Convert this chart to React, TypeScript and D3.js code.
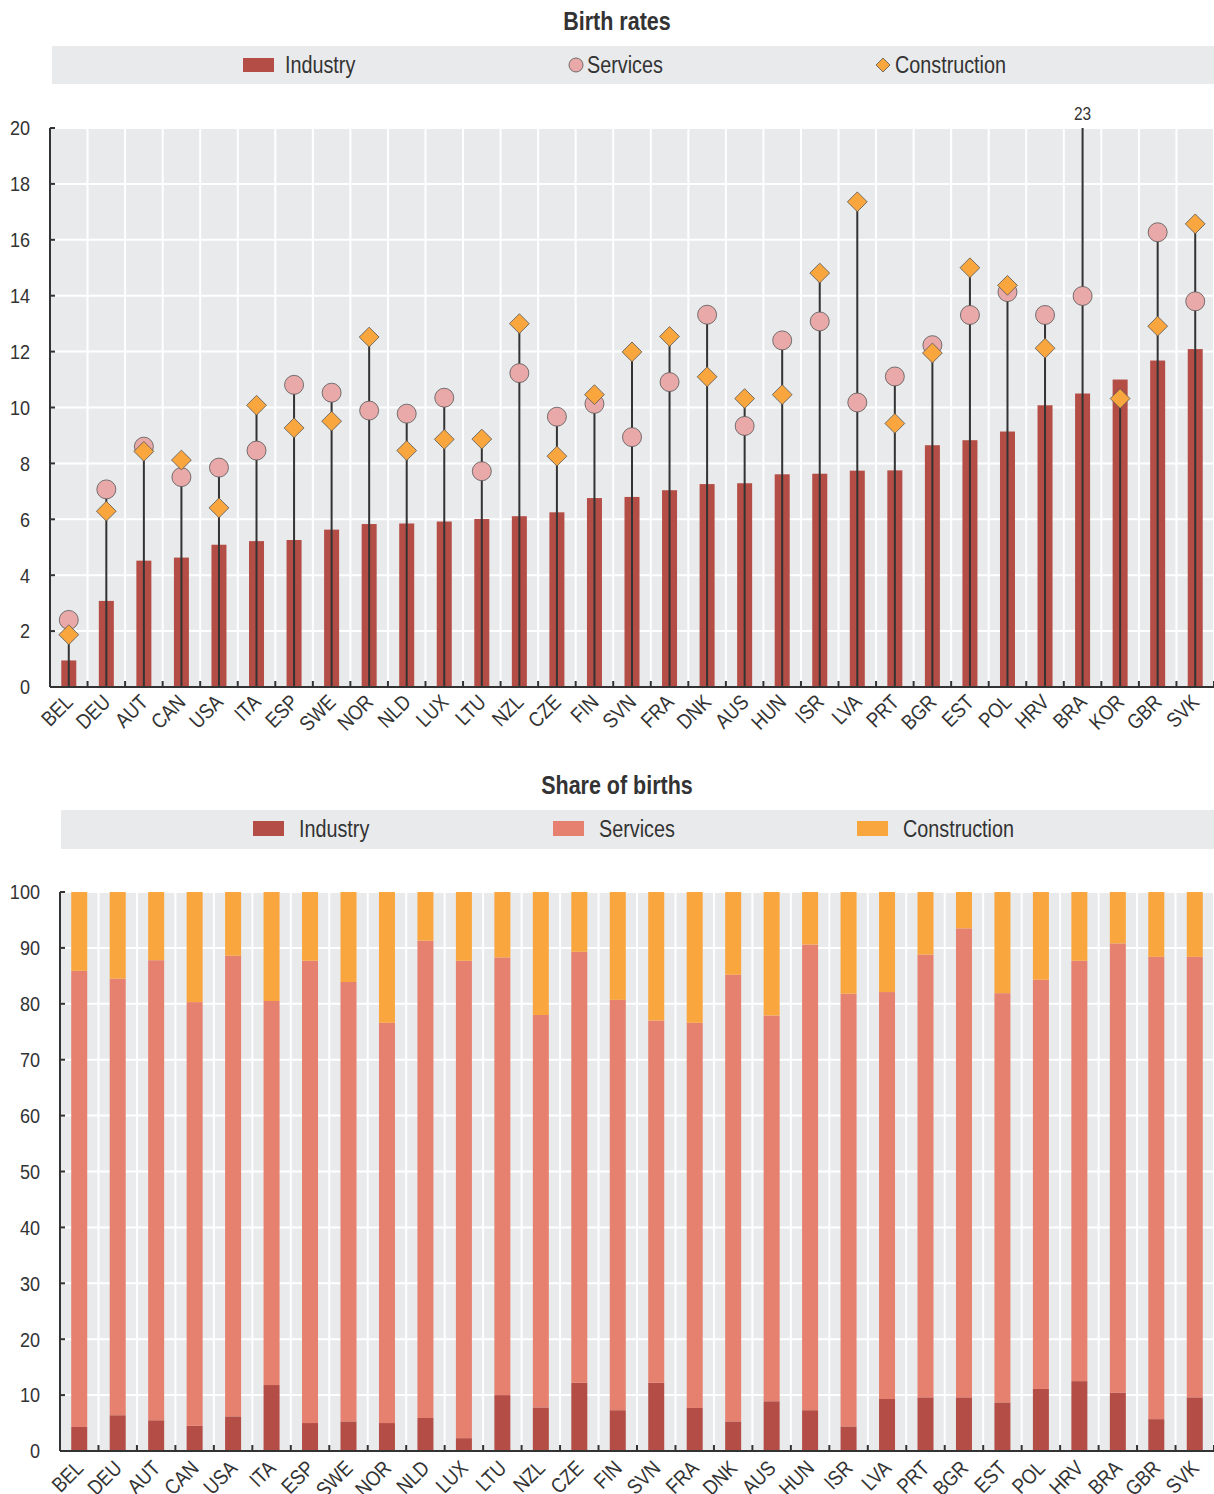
import React from "react";
import * as d3 from "d3";

// ---------- Data: Birth rates ----------
const rateCountries = ["BEL","DEU","AUT","CAN","USA","ITA","ESP","SWE","NOR","NLD","LUX","LTU","NZL","CZE","FIN","SVN","FRA","DNK","AUS","HUN","ISR","LVA","PRT","BGR","EST","POL","HRV","BRA","KOR","GBR","SVK"];
const industryRate = [0.95,3.08,4.52,4.63,5.09,5.22,5.26,5.63,5.83,5.85,5.92,6.01,6.11,6.25,6.76,6.80,7.04,7.26,7.29,7.61,7.63,7.74,7.75,8.65,8.83,9.14,10.08,10.5,11.0,11.68,12.09];
const servicesRate: (number | null)[] = [2.4,7.07,8.6,7.51,7.85,8.46,10.81,10.53,9.89,9.78,10.35,7.72,11.23,9.67,10.13,8.94,10.91,13.32,9.34,12.4,13.08,10.18,11.11,12.23,13.31,14.13,13.31,13.99,null,16.27,13.8];
const constructionRate = [1.87,6.29,8.43,8.12,6.41,10.08,9.27,9.51,12.52,8.46,8.86,8.87,13.0,8.26,10.46,11.99,12.54,11.1,10.32,10.46,14.81,17.36,9.43,11.95,15.0,14.37,12.12,23,10.32,12.91,16.57];
const rateTicks = [0,2,4,6,8,10,12,14,16,18,20];

// ---------- Data: Share of births ----------
const shareCountries = ["BEL","DEU","AUT","CAN","USA","ITA","ESP","SWE","NOR","NLD","LUX","LTU","NZL","CZE","FIN","SVN","FRA","DNK","AUS","HUN","ISR","LVA","PRT","BGR","EST","POL","HRV","BRA","GBR","SVK"];
const industryShare = [4.3,6.4,5.5,4.5,6.2,11.8,5.0,5.3,5.0,5.9,2.3,10.0,7.8,12.2,7.3,12.2,7.7,5.3,8.9,7.3,4.4,9.3,9.6,9.6,8.7,11.1,12.5,10.4,5.7,9.6];
const servicesShare = [81.6,78.1,82.3,75.8,82.4,68.7,82.7,78.6,71.6,85.4,85.4,78.3,70.2,77.1,73.4,64.8,68.9,79.9,69.0,83.3,77.4,72.8,79.2,83.9,73.2,73.2,75.2,80.4,82.7,78.8];
const constructionShare = [14.1,15.5,12.2,19.7,11.4,19.5,12.3,16.1,23.4,8.7,12.3,11.7,22.0,10.7,19.3,23.0,23.4,14.8,22.1,9.4,18.2,17.9,11.2,6.5,18.1,15.7,12.3,9.2,11.6,11.6];
const shareTicks = [0,10,20,30,40,50,60,70,80,90,100];

const seriesNames = ["Industry", "Services", "Construction"];

const FONT = "'Liberation Sans', Arial, sans-serif";
const NARROW = 0.86;
const C_IND = "#b34d45";
const C_SERV_DOT = "#e8a9a8";
const C_SERV = "#e6806f";
const C_CONS = "#f9a63f";
const C_BG = "#e9eaec";
const C_AXIS = "#333333";
const C_TEXT = "#333333";

type TProps = {
  x: number; y: number; size: number; anchor?: "start" | "middle" | "end";
  bold?: boolean; rotate?: number; dy?: string; children: React.ReactNode;
};
function T({ x, y, size, anchor = "start", bold = false, rotate = 0, dy, children }: TProps) {
  return (
    <text
      transform={`translate(${x},${y}) rotate(${rotate}) scale(${NARROW},1)`}
      textAnchor={anchor}
      dy={dy}
      fontFamily={FONT}
      fontWeight={bold ? "bold" : "normal"}
      fontSize={size}
      fill={C_TEXT}
    >
      {children}
    </text>
  );
}

function RatesChart() {
  const left = 50, right = 1214, top = 128, bottom = 687;
  const x = d3.scaleBand<string>().domain(rateCountries).range([left, right]).paddingInner(0).paddingOuter(0);
  const y = d3.scaleLinear().domain([0, 20]).range([bottom, top]);
  const bw = x.bandwidth();
  const barW = 15;
  const boundaries = rateCountries.map((c) => x(c)!).concat([right]);
  const diamond = d3.symbol().type(d3.symbolDiamond2).size(250)();
  return (
    <g>
      <T x={617} y={30} size={25} anchor="middle" bold>Birth rates</T>
      <rect x={52} y={46} width={1162} height={38} fill={C_BG} />
      <rect x={243} y={58} width={31} height={14} fill={C_IND} />
      <T x={285} y={73} size={23}>{seriesNames[0]}</T>
      <circle cx={576} cy={65} r={7} fill={C_SERV_DOT} stroke="#555" strokeWidth={0.8} />
      <T x={587} y={73} size={23}>{seriesNames[1]}</T>
      <path d={d3.symbol().type(d3.symbolDiamond2).size(125)()!} transform={`translate(883,65)`} fill={C_CONS} stroke="#555" strokeWidth={0.8} />
      <T x={895} y={73} size={23}>{seriesNames[2]}</T>

      <rect x={left} y={top} width={right - left} height={bottom - top} fill={C_BG} />
      {rateTicks.map((t) => (
        <line key={"h" + t} x1={left} x2={right} y1={y(t)} y2={y(t)} stroke="#fff" strokeWidth={2} />
      ))}
      {boundaries.map((b, i) => (
        <line key={"v" + i} x1={b} x2={b} y1={top} y2={bottom} stroke="#fff" strokeWidth={2} />
      ))}
      {rateCountries.map((c, i) => {
        const cx = x(c)! + bw / 2;
        return <rect key={"b" + c} x={cx - barW / 2} y={y(industryRate[i])} width={barW} height={bottom - y(industryRate[i])} fill={C_IND} />;
      })}
      {rateCountries.map((c, i) => {
        const cx = x(c)! + bw / 2;
        const s = servicesRate[i];
        const mx = Math.max(s ?? 0, constructionRate[i]);
        return <line key={"l" + c} x1={cx} x2={cx} y1={bottom} y2={y(Math.min(mx, 20))} stroke="#333" strokeWidth={2} />;
      })}
      {rateCountries.map((c, i) => {
        const s = servicesRate[i];
        if (s === null || s > 20) return null;
        const cx = x(c)! + bw / 2;
        return <circle key={"c" + c} cx={cx} cy={y(s)} r={9.5} fill={C_SERV_DOT} stroke="#555" strokeWidth={0.8} />;
      })}
      {rateCountries.map((c, i) => {
        const v = constructionRate[i];
        const cx = x(c)! + bw / 2;
        if (v > 20) {
          return <T key={"o" + c} x={cx} y={top - 8} size={18} anchor="middle">{v}</T>;
        }
        return <path key={"d" + c} d={diamond!} transform={`translate(${cx},${y(v)})`} fill={C_CONS} stroke="#555" strokeWidth={0.8} />;
      })}
      {/* axes */}
      <line x1={left} x2={left} y1={top} y2={bottom} stroke={C_AXIS} strokeWidth={2} />
      <line x1={left} x2={right} y1={bottom} y2={bottom} stroke={C_AXIS} strokeWidth={2} />
      {rateTicks.map((t) => (
        <g key={"yt" + t}>
          <line x1={left} x2={left + 5} y1={y(t)} y2={y(t)} stroke={C_AXIS} strokeWidth={2} />
          <T x={left - 20} y={y(t)} dy="0.35em" size={21} anchor="end">{t}</T>
        </g>
      ))}
      {boundaries.map((b, i) => (
        <line key={"xt" + i} x1={b} x2={b} y1={bottom} y2={bottom - 6} stroke={C_AXIS} strokeWidth={2} />
      ))}
      {rateCountries.map((c) => {
        const cx = x(c)! + bw / 2;
        return <T key={"xl" + c} x={cx - 5} y={bottom + 6} rotate={-45} dy="0.7em" size={21} anchor="end">{c}</T>;
      })}
    </g>
  );
}

function ShareChart() {
  const left = 60, right = 1214, top = 892, bottom = 1451;
  const x = d3.scaleBand<string>().domain(shareCountries).range([left, right]).paddingInner(0).paddingOuter(0);
  const y = d3.scaleLinear().domain([0, 100]).range([bottom, top]);
  const bw = x.bandwidth();
  const barW = 16;
  const boundaries = shareCountries.map((c) => x(c)!).concat([right]);
  const rows = shareCountries.map((c, i) => ({ country: c, Industry: industryShare[i], Services: servicesShare[i], Construction: constructionShare[i] }));
  const stacked = d3.stack<any>().keys(seriesNames)(rows);
  const colors = [C_IND, C_SERV, C_CONS];
  const legendX = [253, 553, 857];
  return (
    <g>
      <T x={617} y={794} size={25} anchor="middle" bold>Share of births</T>
      <rect x={61} y={810} width={1153} height={39} fill={C_BG} />
      {seriesNames.map((s, i) => (
        <g key={"lg" + s}>
          <rect x={legendX[i]} y={821} width={31} height={15} fill={colors[i]} />
          <T x={legendX[i] + 46} y={837} size={23}>{s}</T>
        </g>
      ))}
      <rect x={left} y={top} width={right - left} height={bottom - top} fill={C_BG} />
      {shareTicks.map((t) => (
        <line key={"h" + t} x1={left} x2={right} y1={y(t)} y2={y(t)} stroke="#fff" strokeWidth={2} />
      ))}
      {boundaries.map((b, i) => (
        <line key={"v" + i} x1={b} x2={b} y1={top} y2={bottom} stroke="#fff" strokeWidth={2} />
      ))}
      {stacked.map((layer, li) => (
        <g key={"s" + li} fill={colors[li]}>
          {layer.map((d, i) => {
            const cx = x(shareCountries[i])! + bw / 2;
            return <rect key={i} x={cx - barW / 2} y={y(d[1])} width={barW} height={y(d[0]) - y(d[1])} />;
          })}
        </g>
      ))}
      <line x1={left} x2={left} y1={top} y2={bottom} stroke={C_AXIS} strokeWidth={2} />
      <line x1={left} x2={right} y1={bottom} y2={bottom} stroke={C_AXIS} strokeWidth={2} />
      {shareTicks.map((t) => (
        <g key={"yt" + t}>
          <line x1={left} x2={left + 5} y1={y(t)} y2={y(t)} stroke={C_AXIS} strokeWidth={2} />
          <T x={left - 20} y={y(t)} dy="0.35em" size={21} anchor="end">{t}</T>
        </g>
      ))}
      {boundaries.map((b, i) => (
        <line key={"xt" + i} x1={b} x2={b} y1={bottom} y2={bottom - 6} stroke={C_AXIS} strokeWidth={2} />
      ))}
      {shareCountries.map((c) => {
        const cx = x(c)! + bw / 2;
        return <T key={"xl" + c} x={cx - 5} y={bottom + 8} rotate={-45} dy="0.7em" size={21} anchor="end">{c}</T>;
      })}
    </g>
  );
}

export default function App() {
  return (
    <svg width={1214} height={1494} style={{ position: "absolute", left: 0, top: 0, background: "#fff" }}>
      <RatesChart />
      <ShareChart />
    </svg>
  );
}
